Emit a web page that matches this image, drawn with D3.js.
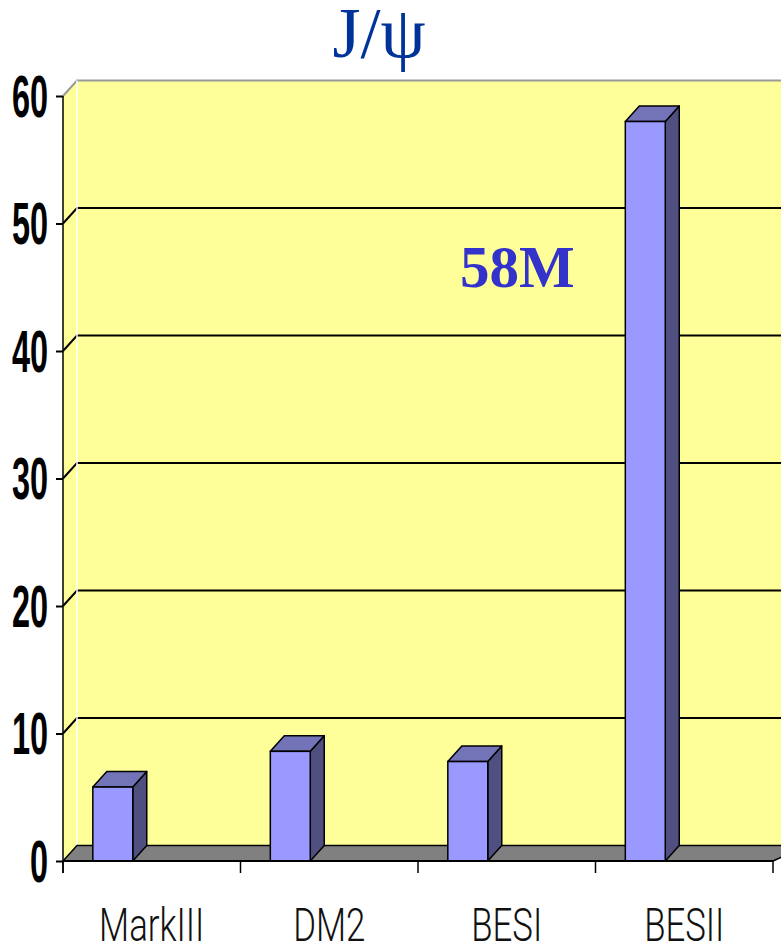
<!DOCTYPE html>
<html>
<head>
<meta charset="utf-8">
<script src="https://cdn.jsdelivr.net/npm/d3@7"></script>
<style>
  html, body { margin: 0; padding: 0; background: #fff; }
  svg { display: block; }
</style>
</head>
<body>
<svg id="chart" width="781" height="945"></svg>
<script>
// J/psi event samples (millions) collected by each experiment
const categories = ["MarkIII", "DM2", "BESI", "BESII"];
const events = [5.8, 8.6, 7.8, 58];
const yTicks = [0, 10, 20, 30, 40, 50, 60];
const titleText = "J/ψ";
const noteText = "58M";

(function draw() {
const svg = d3.select("#chart");
const W = 781;

// front plane of the 3-D box and the depth offset of the back plane
const plotLeft = 63, plotRight = 773, plotBottom = 861, plotTop = 96;
const dx = 14, dy = -15.5;

const y = d3.scaleLinear().domain([0, 60]).range([plotBottom, plotTop]);
const x = d3.scaleBand().domain(categories).range([plotLeft, plotRight]);

const wallFill = "#FFFF99";

// back wall
svg.append("rect")
  .attr("x", plotLeft + dx).attr("y", y(60) + dy)
  .attr("width", W - plotLeft - dx + 20).attr("height", y(0) - y(60))
  .attr("fill", wallFill);

// left side wall
svg.append("polygon")
  .attr("points", [[plotLeft, y(60)], [plotLeft + dx, y(60) + dy], [plotLeft + dx, y(0) + dy], [plotLeft, y(0)]].join(" "))
  .attr("fill", wallFill);

// top border of the walls
svg.append("polyline")
  .attr("points", [[plotLeft, y(60)], [plotLeft + dx, y(60) + dy], [W + 5, y(60) + dy]].join(" "))
  .attr("fill", "none").attr("stroke", "#9a9a9a").attr("stroke-width", 2);

// gridlines running across side wall and back wall
svg.append("g").selectAll("polyline")
  .data(yTicks.filter(t => t > 0 && t < 60))
  .join("polyline")
  .attr("points", d => [[plotLeft, y(d)], [plotLeft + dx, y(d) + dy], [W + 5, y(d) + dy]].join(" "))
  .attr("fill", "none").attr("stroke", "#000").attr("stroke-width", 2);

// light corner edge between the side wall and the back wall
svg.append("line")
  .attr("x1", plotLeft + dx).attr("x2", plotLeft + dx)
  .attr("y1", y(60) + dy).attr("y2", y(0) + dy)
  .attr("stroke", "#fff").attr("stroke-width", 1.5);

// floor
svg.append("polygon")
  .attr("points", [[plotLeft, y(0)], [plotRight, y(0)], [plotRight + dx + 20, y(0) + dy], [plotLeft + dx, y(0) + dy]].join(" "))
  .attr("fill", "#808080").attr("stroke", "#000").attr("stroke-width", 1.5)
  .attr("stroke-linejoin", "round");

// bars: front face, top face and right side face
const barOffset = x.bandwidth() * 0.168;
const barW = x.bandwidth() * 0.225;
const bars = svg.append("g").selectAll("g")
  .data(categories.map((c, i) => ({ c, v: events[i] })))
  .join("g");

bars.append("polygon") // side
  .attr("points", d => {
    const xr = x(d.c) + barOffset + barW, yt = y(d.v);
    return [[xr, yt], [xr + dx, yt + dy], [xr + dx, y(0) + dy], [xr, y(0)]].join(" ");
  })
  .attr("fill", "#4F4F80").attr("stroke", "#000").attr("stroke-width", 1.5).attr("stroke-linejoin", "round");

bars.append("polygon") // top
  .attr("points", d => {
    const xl = x(d.c) + barOffset, xr = xl + barW, yt = y(d.v);
    return [[xl, yt], [xl + dx, yt + dy], [xr + dx, yt + dy], [xr, yt]].join(" ");
  })
  .attr("fill", "#7373B8").attr("stroke", "#000").attr("stroke-width", 1.5).attr("stroke-linejoin", "round");

bars.append("rect") // front
  .attr("x", d => x(d.c) + barOffset)
  .attr("y", d => y(d.v))
  .attr("width", barW)
  .attr("height", d => y(0) - y(d.v))
  .attr("fill", "#9999FF").attr("stroke", "#000").attr("stroke-width", 1.5);

// value axis
const yAxis = svg.append("g")
  .attr("transform", `translate(${plotLeft},0)`)
  .call(d3.axisLeft(y).tickValues(yTicks).tickSize(7).tickSizeOuter(0));
yAxis.select(".domain").remove();
yAxis.selectAll(".tick line").attr("stroke", "#000").attr("stroke-width", 2);
yAxis.selectAll(".tick text")
  .attr("x", 0).attr("dy", "0.34em")
  .attr("transform", "translate(-15,0) scale(0.55,1)")
  .attr("text-anchor", "end")
  .style("font-family", "'Liberation Sans', Arial, sans-serif")
  .style("font-weight", "bold")
  .style("font-size", "59px")
  .attr("fill", "#000");
svg.append("line")
  .attr("x1", plotLeft).attr("x2", plotLeft)
  .attr("y1", y(60)).attr("y2", y(0) + 12)
  .attr("stroke", "#000").attr("stroke-width", 1.5);

// category axis: baseline, boundary ticks and labels
svg.append("line")
  .attr("x1", plotLeft).attr("x2", plotRight)
  .attr("y1", y(0)).attr("y2", y(0))
  .attr("stroke", "#000").attr("stroke-width", 2);
const bounds = categories.map(c => x(c)).concat([x(categories[categories.length - 1]) + x.bandwidth()]);
svg.append("g").selectAll("line")
  .data(bounds).join("line")
  .attr("x1", d => d).attr("x2", d => d)
  .attr("y1", y(0)).attr("y2", y(0) + 12)
  .attr("stroke", "#000").attr("stroke-width", 1.5);

const xAxis = svg.append("g")
  .attr("transform", `translate(0,${y(0)})`)
  .call(d3.axisBottom(x).tickSize(0).tickSizeOuter(0));
xAxis.select(".domain").remove();
xAxis.selectAll(".tick text")
  .attr("y", 0).attr("dy", 0)
  .attr("transform", "translate(0,80) scale(0.74,1)")
  .style("font-family", "Roboto, 'Liberation Sans', sans-serif")
  .style("font-weight", "300")
  .style("font-size", "47px")
  .attr("fill", "#111");

// title
svg.append("text")
  .attr("x", 379).attr("y", 57)
  .attr("text-anchor", "middle")
  .style("font-family", "'Liberation Serif', 'Times New Roman', serif")
  .style("font-size", "72px")
  .attr("fill", "#003399")
  .text(titleText);

// annotation of the largest sample
svg.append("text")
  .attr("x", 460).attr("y", 287)
  .style("font-family", "'Liberation Serif', 'Times New Roman', serif")
  .style("font-weight", "bold")
  .style("font-size", "59px")
  .attr("fill", "#3333CC")
  .text(noteText);
})();
</script>
</body>
</html>
